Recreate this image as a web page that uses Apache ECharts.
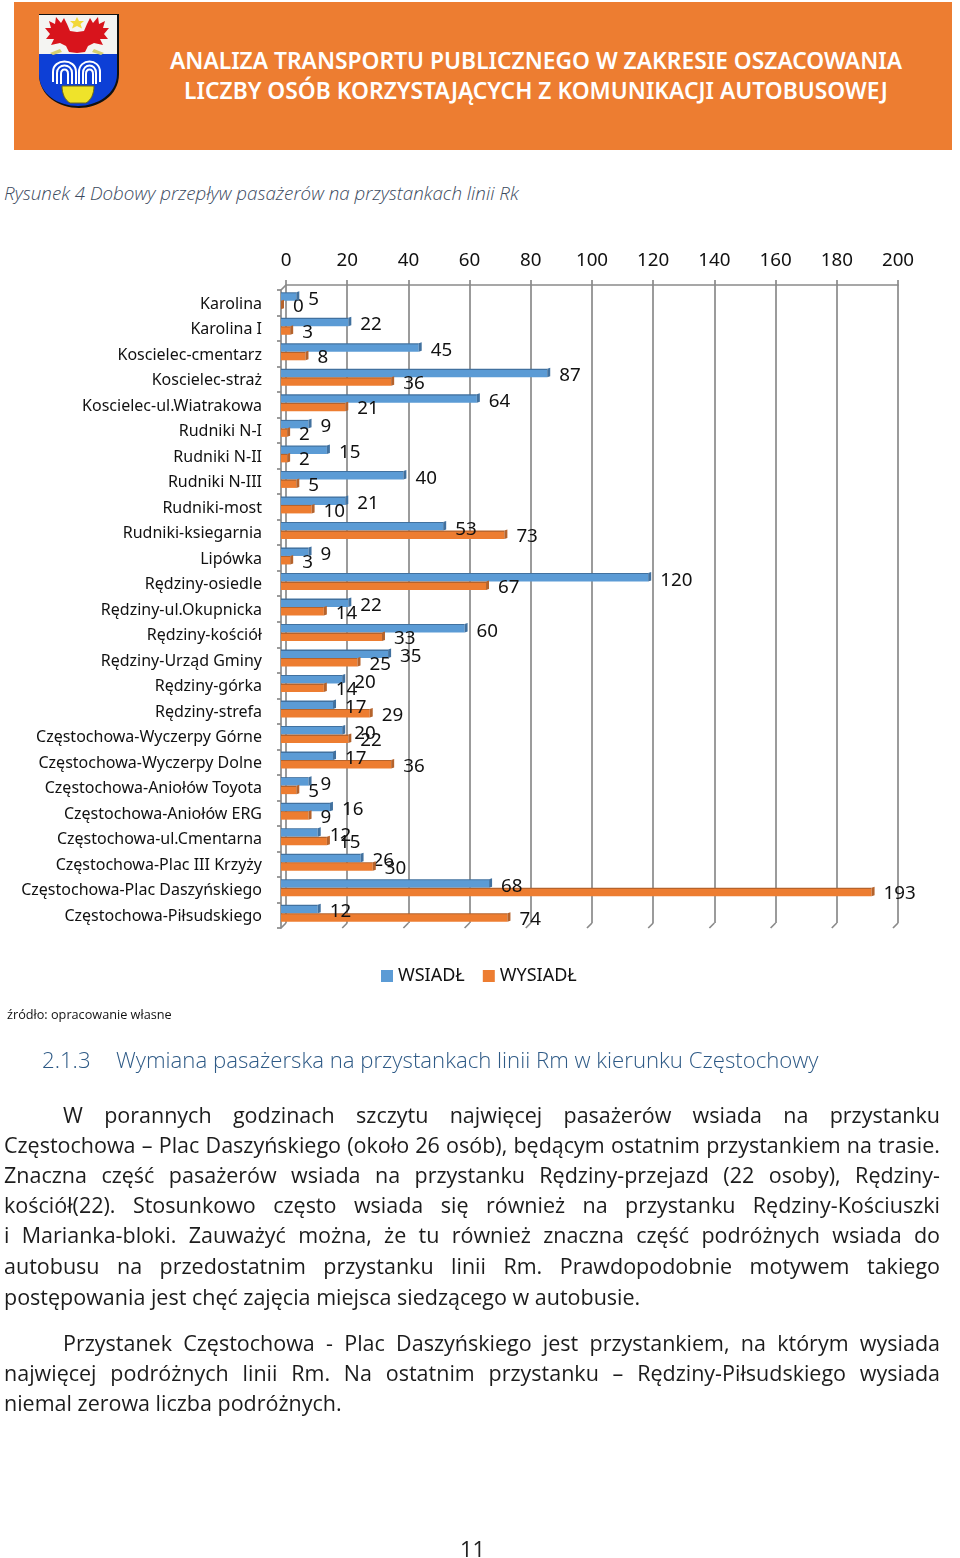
<!DOCTYPE html>
<html lang="pl"><head><meta charset="utf-8">
<script src="https://cdn.jsdelivr.net/npm/echarts@6/dist/echarts.min.js"></script>
<style>
html,body{margin:0;padding:0;background:#fff;}
#page{position:relative;width:960px;height:1558px;overflow:hidden;font-family:"Noto Sans",sans-serif;}
#chart{position:absolute;left:0;top:0;width:960px;height:1558px;}
.t{position:absolute;white-space:nowrap;}
#band{position:absolute;left:14px;top:2px;width:938px;height:148px;background:#ED7D31;}
.h{text-align:center;color:#fff;font-weight:600;font-size:22.8px;line-height:30px;font-family:"Noto Sans",sans-serif;}
.b{left:4px;width:936px;font-size:21.5px;line-height:30px;color:#1c1c1c;text-align:justify;text-align-last:justify;white-space:normal;font-family:"Open Sans",sans-serif;font-weight:400;}
.b.i{left:63px;width:877px;}
.b.l{text-align-last:left;white-space:nowrap;}
</style></head><body>
<div id="page">
<div id="band"></div>
<svg style="position:absolute;left:36px;top:12px" width="86" height="98" viewBox="0 0 86 98">
 <path d="M3 2H83V62C83 84 62 96 43 96C23 96 3 84 3 62Z" fill="#111"/>
 <path d="M3 3H81V62C81 82 61 94 42 94C22 94 3 82 3 62Z" fill="#0d3fd6"/>
 <path d="M3 3H81V42H3Z" fill="#f4f4f2"/>
 <g fill="#d8141c">
  <path d="M41 20L34 19L31 12L28 6L25 11L20 5L19 12L13 9L15 16L9 16L14 22L10 27L18 27L15 33L24 31L30 34L33 40L41 41Z"/>
  <path d="M24 37L14 41L17 43L26 40Z" fill="#d8d070"/>
 </g>
 <g fill="#d8141c" transform="matrix(-1 0 0 1 82 0)">
  <path d="M41 20L34 19L31 12L28 6L25 11L20 5L19 12L13 9L15 16L9 16L14 22L10 27L18 27L15 33L24 31L30 34L33 40L41 41Z"/>
  <path d="M24 37L14 41L17 43L26 40Z" fill="#d8d070"/>
 </g>
 <path d="M41 5L43 9L48 9L44.5 12L46 16.5L41 14L36 16.5L37.5 12L34 9L39 9Z" fill="#f2d83a"/>
 <g fill="none" stroke="#fff" stroke-width="2">
  <path d="M17 70V60C17 46 40 46 40 60V72"/><path d="M21 72V61C21 51 36 51 36 61V72"/><path d="M25 72V62C25 56 32 56 32 62V72"/>
  <path d="M43 72V60C43 46 64 46 64 60V70"/><path d="M47 72V61C47 51 60 51 60 61V72"/><path d="M50 72V62C50 56 57 56 57 62V72"/>
 </g>
 <path d="M26 74H58C58 82 55 88 50 91H34C29 88 26 82 26 74Z" fill="#efe32a" stroke="#6f6a10" stroke-width="1"/>
</svg>
<div class="t h" style="top:46px;left:0;width:1072px">ANALIZA TRANSPORTU PUBLICZNEGO W ZAKRESIE OSZACOWANIA</div>
<div class="t h" style="top:76px;left:0;width:1072px">LICZBY OSÓB KORZYSTAJĄCYCH Z KOMUNIKACJI AUTOBUSOWEJ</div>
<div class="t" style="left:4px;top:180px;font-size:18.8px;line-height:26px;font-style:italic;font-weight:300;color:#3b4a5e;font-family:'Open Sans',sans-serif">Rysunek 4 Dobowy przepływ pasażerów na przystankach linii Rk</div>
<div id="chart"></div>
<div class="t" style="left:7px;top:1005px;font-size:12.7px;line-height:18px;color:#111;font-family:'Open Sans',sans-serif">źródło: opracowanie własne</div>
<div class="t" style="left:42px;top:1044px;font-size:22.2px;line-height:32px;font-weight:300;color:#2E5A86;font-family:'Open Sans',sans-serif">2.1.3</div>
<div class="t" style="left:116px;top:1044px;font-size:22.2px;line-height:32px;font-weight:300;color:#2E5A86;font-family:'Open Sans',sans-serif">Wymiana pasażerska na przystankach linii Rm w kierunku Częstochowy</div>
<div class="t b i" style="top:1100px">W porannych godzinach szczytu najwięcej pasażerów wsiada na przystanku</div>
<div class="t b" style="top:1130px">Częstochowa – Plac Daszyńskiego (około 26 osób), będącym ostatnim przystankiem na trasie.</div>
<div class="t b" style="top:1160px">Znaczna część pasażerów wsiada na przystanku Rędziny-przejazd (22 osoby), Rędziny-</div>
<div class="t b" style="top:1190px">kościół(22). Stosunkowo często wsiada się również na przystanku Rędziny-Kościuszki</div>
<div class="t b" style="top:1220px">i Marianka-bloki. Zauważyć można, że tu również znaczna część podróżnych wsiada do</div>
<div class="t b" style="top:1251px">autobusu na przedostatnim przystanku linii Rm. Prawdopodobnie motywem takiego</div>
<div class="t b l" style="top:1282px">postępowania jest chęć zajęcia miejsca siedzącego w autobusie.</div>
<div class="t b i" style="top:1328px">Przystanek Częstochowa - Plac Daszyńskiego jest przystankiem, na którym wysiada</div>
<div class="t b" style="top:1358px">najwięcej podróżnych linii Rm. Na ostatnim przystanku – Rędziny-Piłsudskiego wysiada</div>
<div class="t b l" style="top:1388px">niemal zerowa liczba podróżnych.</div>
<div class="t" style="left:460px;top:1533px;font-size:22px;line-height:30px;color:#222;font-family:'Open Sans',sans-serif">11</div>
</div>
<script>
const stops = ["Karolina","Karolina I","Koscielec-cmentarz","Koscielec-straż","Koscielec-ul.Wiatrakowa","Rudniki N-I","Rudniki N-II","Rudniki N-III","Rudniki-most","Rudniki-ksiegarnia","Lipówka","Rędziny-osiedle","Rędziny-ul.Okupnicka","Rędziny-kościół","Rędziny-Urząd Gminy","Rędziny-górka","Rędziny-strefa","Częstochowa-Wyczerpy Górne","Częstochowa-Wyczerpy Dolne","Częstochowa-Aniołów Toyota","Częstochowa-Aniołów ERG","Częstochowa-ul.Cmentarna","Częstochowa-Plac III Krzyży","Częstochowa-Plac Daszyńskiego","Częstochowa-Piłsudskiego"];
const wsiadl = [5,22,45,87,64,9,15,40,21,53,9,120,22,60,35,20,17,20,17,9,16,12,26,68,12];
const wysiadl = [0,3,8,36,21,2,2,5,10,73,3,67,14,33,25,14,29,22,36,5,9,15,30,193,74];
const xTicks = [0,20,40,60,80,100,120,140,160,180,200];

const FONT = '"Noto Sans", sans-serif';
const GREY = '#8a8a8a';
const BLUE = '#5B9BD5', BLUE_D = '#41719f', ORANGE = '#ED7D31', ORANGE_D = '#b5632c';
const BAR_W = 8.5;
const shade = (top, main) => ({type:'linear',x:0,y:0,x2:0,y2:1,colorStops:[{offset:0,color:top},{offset:0.12,color:top},{offset:0.16,color:main},{offset:1,color:main}]});
const hiddenX = i => ({type:'value',gridIndex:i,min:0,max:200,interval:20,show:false});

function capSeries(values, sign, dark) {
  return {
    type:'custom', xAxisIndex:1, yAxisIndex:1, silent:true, z:4, clip:false,
    data: values.map((v,i)=>[v,i]), encode:{x:0,y:1},
    renderItem(params, api){
      const p = api.coord([api.value(0), api.value(1)]);
      const y0 = sign < 0 ? p[1]-BAR_W : p[1];
      const y1 = y0 + BAR_W;
      return {type:'polygon', shape:{points:[[p[0],y0],[p[0]+3,y0-1],[p[0]+3,y1-1],[p[0],y1]]}, style:{fill:dark}};
    }
  };
}
const barLabel = dy => ({show:true, position:'right', distance:12, offset:[0,dy], fontFamily:FONT, fontSize:18.8, color:'#111'});

const option = {
  animation:false,
  grid:[
    {left:286, top:285, width:612, height:638},
    {left:281, top:288, width:612, height:638},
    {left:281, top:290, width:612, height:638},
    {left:281, top:291.2, width:612, height:638}
  ],
  xAxis:[
    {type:'value', gridIndex:0, position:'top', min:0, max:200, interval:20,
     axisLine:{show:true, lineStyle:{color:GREY, width:1.7}},
     axisTick:{show:true, length:5, lineStyle:{color:GREY, width:1.7}},
     splitLine:{show:true, lineStyle:{color:GREY, width:1.7}},
     axisLabel:{fontFamily:FONT, fontSize:18.8, color:'#111', margin:15, showMinLabel:true, showMaxLabel:true}},
    hiddenX(1), hiddenX(2), hiddenX(3)
  ],
  yAxis:[
    {type:'category', gridIndex:0, inverse:true, data:stops, show:false},
    {type:'category', gridIndex:1, inverse:true, data:stops, show:false},
    {type:'category', gridIndex:2, inverse:true, data:stops,
     axisLine:{show:true, onZero:false, lineStyle:{color:GREY, width:1.7}},
     axisTick:{show:true, length:4, lineStyle:{color:GREY, width:1.7}},
     axisLabel:{show:false}},
    {type:'category', gridIndex:3, inverse:true, data:stops,
     axisLine:{show:false}, axisTick:{show:false},
     axisLabel:{fontFamily:FONT, fontSize:16, color:'#111', margin:19, interval:0}}
  ],
  legend:{
    left:376, top:962, icon:'rect', itemWidth:12, itemHeight:12, itemGap:18, selectedMode:false,
    textStyle:{fontFamily:FONT, fontSize:18, color:'#111'},
    data:[{name:'WSIADŁ', itemStyle:{color:BLUE}},{name:'WYSIADŁ', itemStyle:{color:ORANGE}}]
  },
  series:[
    {name:'WSIADŁ', type:'bar', xAxisIndex:1, yAxisIndex:1, data:wsiadl, barWidth:BAR_W, barGap:0, z:3,
     itemStyle:{color:shade(BLUE_D,BLUE)}, label:barLabel(3)},
    {name:'WYSIADŁ', type:'bar', xAxisIndex:1, yAxisIndex:1, data:wysiadl, barWidth:BAR_W, barGap:0, z:3,
     itemStyle:{color:shade(ORANGE_D,ORANGE)}, label:barLabel(2)},
    capSeries(wsiadl,-1,BLUE_D),
    capSeries(wysiadl,1,ORANGE_D),
    {type:'custom', xAxisIndex:2, yAxisIndex:2, silent:true, z:2, clip:false,
     data:xTicks.map(v=>[v]), encode:{x:0},
     renderItem(params, api){
       const v = api.value(0);
       const p = api.coord([v, stops.length-1]);
       const yb = p[1] + api.size([0,1])[1]/2;
       return {type:'line', shape:{x1:p[0],y1:yb,x2:p[0]+5,y2:yb-5}, style:{stroke:GREY, lineWidth:1.7}};
     }},
    {type:'custom', xAxisIndex:2, yAxisIndex:2, silent:true, z:2, clip:false,
     data:[[0,0]], encode:{x:0,y:1},
     renderItem(params, api){
       const p = api.coord([api.value(0), api.value(1)]);
       const yt = p[1] - api.size([0,1])[1]/2;
       return {type:'line', shape:{x1:p[0],y1:yt,x2:p[0]+5,y2:yt-5}, style:{stroke:GREY, lineWidth:1.7}};
     }}
  ]
};
echarts.init(document.getElementById('chart'), null, {renderer:'canvas'}).setOption(option);
</script>
</body></html>
